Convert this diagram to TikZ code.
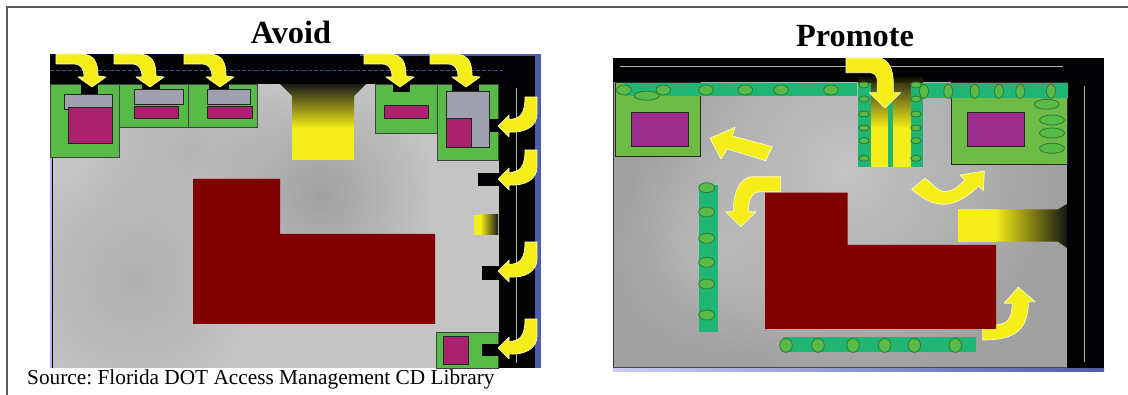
\documentclass[tikz,border=0pt]{standalone}
\usepackage{fontspec}
\setmainfont{Liberation Serif}
\usetikzlibrary{fadings}
\definecolor{roadblack}{HTML}{030305}
\definecolor{lotgreen}{HTML}{58BA47}
\definecolor{lotgreenb}{HTML}{6EBC45}
\definecolor{treeline}{HTML}{2F7F3A}
\definecolor{magA}{HTML}{A9216F}
\definecolor{magB}{HTML}{9C2D8B}
\definecolor{bldggray}{HTML}{A0A0AE}
\definecolor{brick}{HTML}{800000}
\definecolor{teal}{HTML}{1FB574}
\definecolor{ayellow}{HTML}{F5EE18}
\definecolor{edgeblue}{HTML}{4F5BAB}
\definecolor{pave}{HTML}{C3C4C3}
\definecolor{paved}{HTML}{A0A1A0}
\definecolor{pavem}{HTML}{AEAFAE}
\definecolor{pavel}{HTML}{B4B5B4}
\tikzfading[name=blob, inner color=transparent!0, outer color=transparent!100]
\tikzset{
  framelineb/.style={draw=black!65, line width=1.3pt},
  lotA/.style={fill=lotgreen, draw=black!75, line width=0.9pt},
  lotB/.style={fill=lotgreenb, draw=black!85, line width=0.9pt},
  magbox/.style={fill=magA, draw=black!85, line width=0.9pt},
  magboxb/.style={fill=magB, draw=black!85, line width=0.9pt},
  graybox/.style={fill=bldggray, draw=black!85, line width=0.9pt},
  notch/.style={fill=roadblack},
  road/.style={fill=roadblack},
  brickfill/.style={fill=brick},
  stripfill/.style={fill=teal},
  tree/.style={fill=lotgreen, draw=treeline, line width=0.9pt},
  yarrow/.style={fill=ayellow, draw=white!75!yellow, line width=0.7pt, line join=round},
  lightline/.style={draw=gray!60, line width=1pt},
  title/.style={font=\fontsize{32.3}{34}\selectfont\bfseries, anchor=base, inner sep=0pt},
  srctext/.style={font=\frenchspacing\fontsize{21.3}{24}\selectfont, anchor=base west, inner sep=0pt},
}
\newcommand{\arrowdn}[2]{\path[yarrow,shift={(#1,#2)}] (-36,-33) -- (-12,-33) .. controls (3,-33) and (6,-24) .. (6,-11) -- (14,-10) -- (0,0) -- (-14,-10) -- (-8,-10) .. controls (-8,-18) and (-11,-23) .. (-18,-23) -- (-36,-23) -- cycle;}
\newcommand{\arrowlf}[2]{\path[yarrow,shift={(#1,#2)}] (0,0) -- (11,-11) -- (11,-6.5) .. controls (22,-7) and (27,-12) .. (27,-29) -- (39,-29) -- (39,-12) .. controls (39,0) and (28,7) .. (11,6) -- (11,11) -- cycle;}
\newcommand{\treeat}[4]{\path[tree] (#1,#2) ellipse [x radius=#3, y radius=#4];}
\begin{document}
\begin{tikzpicture}[x=1pt,y=-1pt]
\useasboundingbox (0,0) rectangle (1128,395);
\fill[white] (0,0) rectangle (1128,395);
% frame
\draw[framelineb] (7,395) -- (7,7) -- (1128,7);
% ---- LEFT PANEL ----
\fill[black!10!blue!30!white] (50,54) rectangle (53,368);
\fill[black] (51.5,84) rectangle (53,368);
\begin{scope}
\clip (53,84) rectangle (499,368);
\fill[pave] (53,84) rectangle (499,368);
\fill[pavem, path fading=blob] (135,280) circle [radius=125];
\fill[pavel, path fading=blob] (190,150) circle [radius=110];
\fill[paved, path fading=blob] (320,195) circle [radius=115];
\end{scope}
\path[road] (50,54) rectangle (535,84);
\path[road] (499,54) rectangle (535,368);
\fill[edgeblue] (535,54) rectangle (541,368);
\fill[edgeblue] (360,54) rectangle (535,56);
\fill[black!40!blue!40!black] (50,54) rectangle (360,56);
\draw[edgeblue!85!black, line width=0.8pt, dash pattern=on 3.5pt off 2.5pt] (50,70) -- (503,70);
\draw[lightline] (516,88) -- (516,363);
% top yellow driveway
\shade[top color=black!90, bottom color=ayellow] (280,84) -- (292,96) -- (292,128) -- (354,128) -- (354,96) -- (366,84) -- cycle;
\fill[ayellow] (292,128) rectangle (354,160);
% lots
\path[lotA] (50,84) rectangle (119,157);
\path[notch] (81,84) rectangle (98,94);
\path[graybox] (64,94) rectangle (112,109);
\path[magbox] (68,107) rectangle (112,143);
\path[lotA] (119,84) rectangle (188,127);
\path[notch] (142,84) rectangle (160,89);
\path[graybox] (134.5,89) rectangle (183,104);
\path[magbox] (134.5,106) rectangle (178,118.5);
\path[lotA] (188,84) rectangle (257,127);
\path[notch] (209,84) rectangle (229,89);
\path[graybox] (207,89) rectangle (250,104);
\path[magbox] (207,106) rectangle (252,118.5);
\path[lotA] (375.5,84) rectangle (438,133);
\path[notch] (393,84) rectangle (410,92);
\path[magbox] (384.5,105.5) rectangle (428,118.5);
\path[lotA] (437,84) rectangle (498,160);
\path[notch] (452,83.5) rectangle (479,91);
\path[notch] (489,119) rectangle (499,132);
\path[graybox] (446,91) rectangle (489,147);
\path[magbox] (446,118) rectangle (471,147);
\path[notch] (478,173) rectangle (499,186);
\path[notch] (482,266) rectangle (499,280);
\path[lotA] (436,332) rectangle (498,368);
\path[magbox] (443,336) rectangle (468,364);
\path[notch] (482,344) rectangle (499,356);
% right small gradient driveway
\fill[ayellow] (474,215) rectangle (481,235);
\shade[left color=ayellow, right color=black!90] (480.5,215) rectangle (498,235);
% building
\path[brickfill] (193,179) -- (280,179) -- (280,234) -- (435,234) -- (435,324) -- (193,324) -- cycle;
% arrows
\arrowdn{92}{87}\arrowdn{150}{87}\arrowdn{220}{87}\arrowdn{400}{87}\arrowdn{466}{87}
\arrowlf{498}{126}\arrowlf{498}{179}\arrowlf{498}{271}\arrowlf{498}{348}
% ---- RIGHT PANEL ----
\begin{scope}
\clip (613,82) rectangle (1067,368);
\fill[paved] (613,82) rectangle (1067,368);
\fill[pavel, path fading=blob] (715,250) circle [radius=110];
\fill[pave, path fading=blob] (845,170) circle [radius=215];
\end{scope}
\shade[left color=black!20!blue!20!white, right color=edgeblue] (613,368) rectangle (1104,372);
\draw[black!80, line width=1pt] (613.5,82) -- (613.5,368);
\draw[black!70, line width=0.7pt] (613,367.7) -- (1067,367.7);
\path[road] (613,58) rectangle (1104,82);
\path[road] (1067,58) rectangle (1104,368);
\draw[lightline] (620,67) -- (1063,67);
\draw[lightline] (1084,86) -- (1084,362);
% lots
\path[lotB] (615,82) rectangle (700,156);
\path[magboxb] (631.5,112.5) rectangle (688,146);
\path[lotB] (951.7,82) rectangle (1067,164.3);
\path[magboxb] (967,112.3) rectangle (1024,146);
% teal strips
\path[stripfill] (624,83) rectangle (857,96);
\path[stripfill] (918,83) rectangle (1068,98);
\path[stripfill] (699,185) rectangle (718,332);
\path[stripfill] (783.3,337) rectangle (976,352);
\path[stripfill] (858.3,83) rectangle (871,167.5);
\path[stripfill] (910.7,83) rectangle (923,167.5);
% central driveway
\shade[top color=black!90, bottom color=ayellow] (871,75) rectangle (910.7,128);
\shade[top color=black, bottom color=black!80!ayellow] (858,75) rectangle (923,83);
\fill[ayellow] (871,128) rectangle (910.7,167.5);
\fill[teal] (888,100) rectangle (893,167.5);
% trees
\foreach \x in {624,663.3,706,745.3,781,831} {\treeat{\x}{90}{7.3}{5}}
\treeat{646.7}{95.7}{12.5}{4.5}
\foreach \y in {187.7,212,238.3,262.3,284,315} {\treeat{706.7}{\y}{8}{5}}
\foreach \x in {786,818,853,884.7,914.3,955.3} {\treeat{\x}{345.3}{6.3}{7}}
\foreach \y in {85,99,114,128,140.7,158.3} {\treeat{864}{\y}{5.3}{3}\treeat{916}{\y}{5.3}{3}}
\foreach \x in {924,948.3,974.7,999,1020.3,1051} {\treeat{\x}{91.3}{4.5}{7}}
\treeat{1046.7}{104.3}{12.5}{5}
\foreach \y in {120,133,148.3} {\treeat{1052}{\y}{12.5}{5}}
% right gradient driveway
\shade[left color=ayellow, right color=black!92] (995,209.3) -- (1058,209.3) -- (1067,204) -- (1067,248) -- (1058,241.7) -- (995,241.7) -- cycle;
\fill[ayellow] (958.3,209.3) rectangle (995.5,241.7);
% arrows
\path[yarrow] (846,58) -- (880,58) .. controls (889,60) and (893.3,70) .. (893.3,83) -- (893.3,92.7) -- (900.7,92.7) -- (885,108) -- (869.3,92.7) -- (877.3,92.7) -- (877.3,80) .. controls (877.3,76) and (874,72.7) .. (870,72.7) -- (846,72.7) -- cycle;
\path[yarrow] (710,138.3) -- (735,127.3) -- (732.3,136) -- (772.3,146.7) -- (765.7,160.7) -- (727.3,149) -- (721,159) -- cycle;
\path[yarrow] (780.7,176.7) -- (751.7,176.7) .. controls (740,178) and (733.3,192) .. (733.3,211.7) -- (725.7,211.7) -- (740.7,226.7) -- (756,211.7) -- (748.3,211.7) .. controls (748.3,200) and (752,191.7) .. (760,191.7) -- (780.7,191.7) -- cycle;
\path[yarrow] (982.7,325) -- (982.7,340) .. controls (1015,340) and (1028.3,330) .. (1028.3,301.7) -- (1035,301.7) -- (1018.3,287.3) -- (1004,303.3) -- (1012.3,303.3) .. controls (1012,318) and (1008,324) .. (996,325) -- cycle;
\path[yarrow] (911.7,189.3) -- (925,178.3) .. controls (932,183) and (938,191.7) .. (945,191.7) .. controls (952,191.7) and (959,186) .. (965,180) -- (960,175) -- (984.3,171) -- (983.3,190.7) -- (978.3,186) .. controls (968,197) and (955,204.3) .. (943.3,204.3) .. controls (932,204.3) and (922,198) .. (911.7,189.3) -- cycle;
% building
\path[brickfill] (765,192.7) -- (847.7,192.7) -- (847.7,245) -- (996,245) -- (996,329) -- (765,329) -- cycle;
% ---- TEXT ----
\node[title] (avoid) at (291,44) {Avoid};
\node[title] (promote) at (855,47) {Promote};
\node[srctext] (source) at (27,385) {Source: Florida DOT Access Management CD Library};
\end{tikzpicture}
\end{document}
